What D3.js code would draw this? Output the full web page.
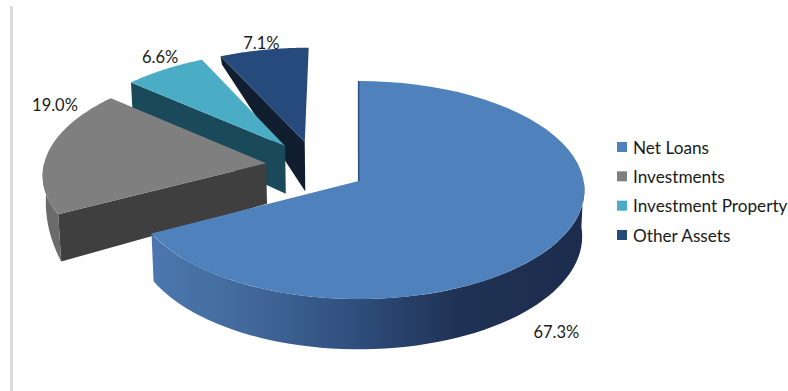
<!DOCTYPE html>
<html>
<head>
<meta charset="utf-8">
<script src="https://cdn.jsdelivr.net/npm/d3@7/dist/d3.min.js"></script>
<style>
  html, body { margin: 0; padding: 0; background: #fff; }
  svg { display: block; }
  text { font-family: Lato, "Open Sans", sans-serif; fill: #1a1a1a; }
</style>
</head>
<body>
<svg id="chart" width="788" height="391"></svg>
<script>
// Asset mix, in percent
const categories = ["Net Loans", "Investments", "Investment Property", "Other Assets"];
const shares = [67.3, 19.0, 6.6, 7.1];
const shareLabels = ["67.3%", "19.0%", "6.6%", "7.1%"];

// Palette per slice
const topColors = ["#4f81bd", "#7f7f7f", "#4bacc6", "#264a7c"];
const cutColors = ["#2f5080", "#3f3f3f", "#1a4a59", "#101e30"];
const wallColors = ["url(#mainWall)", "#6b6b6b", "#1a4a59", "#101e30"];

// Disk-space layout: slice displacement, wall heights, and label anchors
const explode = [[0.003, 0], [-0.414, -0.165], [-0.333, -0.332], [-0.244, -0.371]];
const coreDepth = [46, 41, 49, 51];
const rimDepth = [46, 46, 46, 9];
const wallEndDepth = [46, 20, 46, 9];
const labelAnchors = [[0.79, 1.249], [-1.43, -0.745], [-0.972, -1.265], [-0.48, -1.425]];

const svg = d3.select("#chart");
const cx = 358, cy = 181, R = 225, ry = 108.3, persp = 0.083, wallShrink = 0.99;

// Perspective projection of the tilted disk; dz pushes a point down the wall
function project(u, v, dz = 0) {
  const s = 1 / (1 - persp * v);
  const shrink = dz > 0 ? wallShrink : 1;
  return [cx + R * u * s * shrink, cy + ry * v * s + dz * s];
}

const slices = d3.pie().sort(null).value(d => d)(shares);
const line = d3.line();

const rimPoint = (i, a, dz = 0) =>
  project(explode[i][0] + Math.sin(a), explode[i][1] - Math.cos(a), dz);
const apexPoint = (i, dz = 0) => project(explode[i][0], explode[i][1], dz);
const arcAngles = (a0, a1) => d3.range(0, 61).map(k => a0 + (a1 - a0) * k / 60);

// Horizontal shading along the front wall of the main slice
const wallStops = [[0, "#4b77ae"], [0.2, "#436a9c"], [0.45, "#30507f"], [0.7, "#203255"], [1, "#1b2c4d"]];
const wallX = d3.scaleLinear().domain([0, 1]).range([155, 586]);
svg.append("defs").append("linearGradient")
  .attr("id", "mainWall")
  .attr("gradientUnits", "userSpaceOnUse")
  .attr("x1", wallX(0)).attr("x2", wallX(1)).attr("y1", 0).attr("y2", 0)
  .selectAll("stop").data(wallStops).join("stop")
  .attr("offset", d => d[0]).attr("stop-color", d => d[1]);

// Thin vertical rule along the left edge
svg.append("rect").attr("x", 10).attr("y", 6).attr("width", 3).attr("height", 385).attr("fill", "#dcdcdc");

// Back slices first so nearer ones overlap them
const drawOrder = [3, 2, 1, 0];
const pie = svg.append("g");
drawOrder.forEach(i => {
  const d = slices[i];
  const g = pie.append("g");

  // Radial cut face along the slice's starting edge
  if (i > 0) {
    const a = d.startAngle;
    g.append("path")
      .attr("fill", cutColors[i])
      .attr("d", line([
        apexPoint(i),
        rimPoint(i, a),
        rimPoint(i, a, rimDepth[i]),
        apexPoint(i, coreDepth[i])
      ]) + "Z");
  }

  // Outer wall, only over the front-facing part of the rim; its height eases along the arc
  const w0 = Math.max(d.startAngle, Math.PI / 2);
  const w1 = Math.min(d.endAngle, Math.PI * 1.5);
  if (w1 > w0) {
    const angles = arcAngles(w0, w1);
    const wallDepth = d3.scaleLinear().domain([w0, w1]).range([rimDepth[i], wallEndDepth[i]]);
    g.append("path")
      .attr("fill", wallColors[i])
      .attr("d", line([
        ...angles.map(a => rimPoint(i, a)),
        ...angles.slice().reverse().map(a => rimPoint(i, a, wallDepth(a)))
      ]) + "Z");
  }

  // Top face
  g.append("path")
    .attr("fill", topColors[i])
    .attr("d", line([apexPoint(i), ...arcAngles(d.startAngle, d.endAngle).map(a => rimPoint(i, a))]) + "Z");

  // Dark sliver on the upright edge of the main slice
  if (i === 0) {
    g.append("path")
      .attr("fill", "none")
      .attr("stroke", cutColors[0])
      .attr("stroke-width", 1.5)
      .attr("d", line([rimPoint(0, 0), apexPoint(0)]));
  }
});

// Value labels
svg.append("g").selectAll("text").data(shareLabels).join("text")
  .attr("x", (d, i) => project(...labelAnchors[i])[0])
  .attr("y", (d, i) => project(...labelAnchors[i])[1])
  .attr("text-anchor", "middle")
  .attr("dominant-baseline", "central")
  .style("font-size", "16.5px")
  .text(d => d);

// Legend
const legendY = d3.scalePoint().domain(categories).range([147, 235]);
const legend = svg.append("g").selectAll("g").data(categories).join("g")
  .attr("transform", d => `translate(617,${legendY(d)})`);
legend.append("rect")
  .attr("y", -5).attr("width", 10).attr("height", 10)
  .attr("fill", (d, i) => topColors[i]);
legend.append("text")
  .attr("x", 16)
  .attr("dominant-baseline", "central")
  .style("font-size", "17.2px")
  .text(d => d);
</script>
</body>
</html>
